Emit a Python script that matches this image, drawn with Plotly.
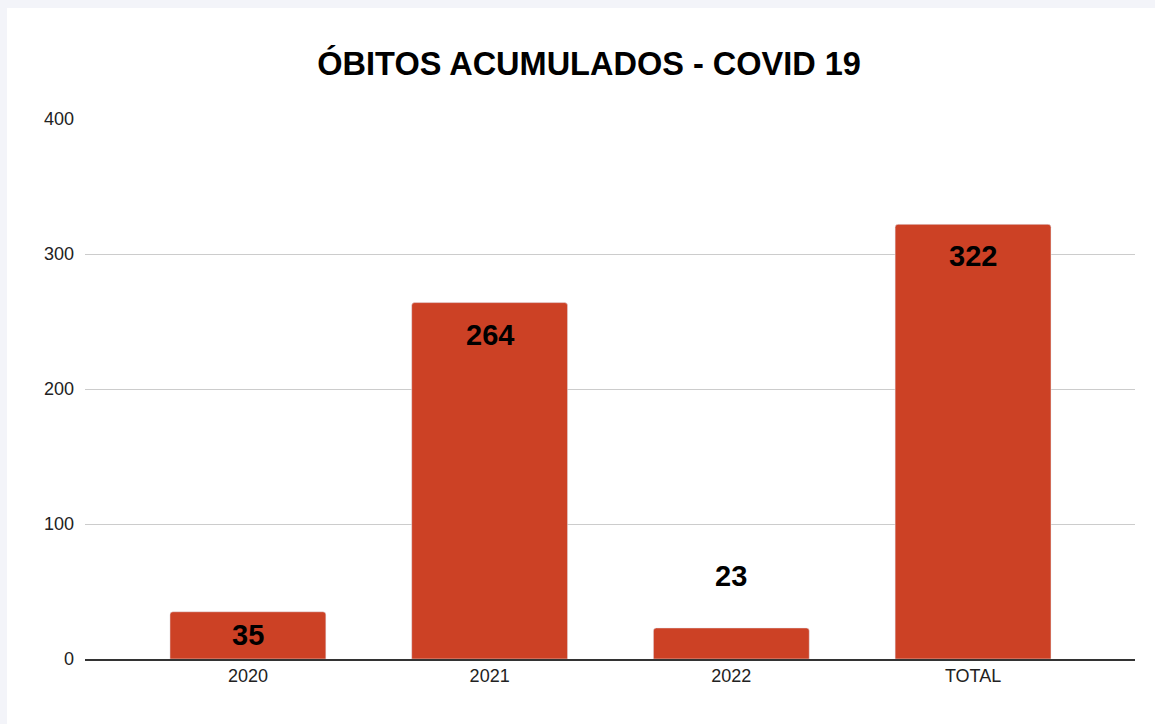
import plotly.graph_objects as go

categories = ["2020", "2021", "2022", "TOTAL"]
obitos = [35, 264, 23, 322]
y_ticks = [0, 100, 200, 300, 400]

BAR_COLOR = "#CC4125"
FONT = "Liberation Sans, Arial, sans-serif"
PX_PER_UNIT = 540 / 400  # plot height / y range

fig = go.Figure(
    go.Bar(
        x=categories,
        y=obitos,
        marker=dict(color=BAR_COLOR, cornerradius=3),
        width=0.645,
        hoverinfo="x+y",
        showlegend=False,
    )
)

# value labels: near the top of tall bars, centred in short ones,
# above the bar when it is too short to hold the text
for idx, val in enumerate(obitos):
    bar_px = val * PX_PER_UNIT
    if bar_px > 60:
        y, anchor, shift = val, "top", -14
    elif bar_px > 40:
        y, anchor, shift = val / 2, "middle", 0
    else:
        y, anchor, shift = val, "bottom", 34
    fig.add_annotation(
        x=idx,
        y=y,
        text=str(val),
        showarrow=False,
        yanchor=anchor,
        yshift=shift,
        font=dict(family=FONT, size=29, color="#000000", weight="bold"),
    )

fig.update_layout(
    title=dict(
        text="<b>ÓBITOS ACUMULADOS - COVID 19</b>",
        x=0.504,
        xanchor="center",
        y=0.9227,
        yanchor="middle",
        font=dict(family=FONT, size=32.5, color="#000000"),
    ),
    font=dict(family=FONT, size=18, color="#222222"),
    paper_bgcolor="white",
    plot_bgcolor="white",
    width=1155,
    height=724,
    margin=dict(l=78, r=27, t=111, b=73),
    xaxis=dict(
        type="category",
        range=[-0.674, 3.67],
        showgrid=False,
        showline=True,
        linecolor="#333333",
        linewidth=1.5,
        ticks="",
        tickfont=dict(size=18, color="#222222"),
        fixedrange=True,
    ),
    yaxis=dict(
        range=[0, 400],
        tickvals=y_ticks,
        showgrid=True,
        gridcolor="#CCCCCC",
        gridwidth=1,
        zeroline=False,
        ticks="",
        ticklabelstandoff=10,
        tickfont=dict(size=18, color="#222222"),
        fixedrange=True,
    ),
)

# light page background showing only above and left of the white chart
fig.write_html(
    "out.html",
    post_script=(
        "document.body.style.background = '#F3F4F9';"
        "document.body.style.margin = '8px 0 0 7px';"
        "document.body.style.overflow = 'hidden';"
    ),
)
